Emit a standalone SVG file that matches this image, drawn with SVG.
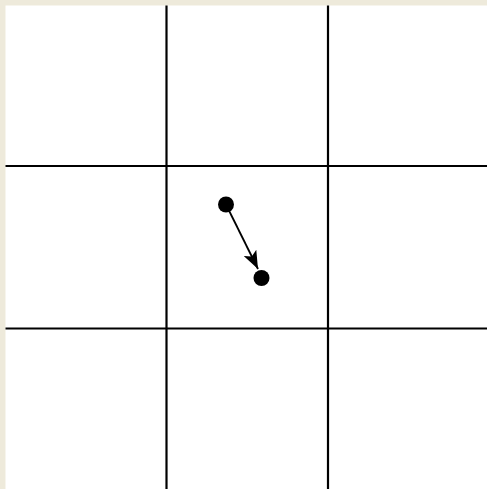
<svg xmlns="http://www.w3.org/2000/svg" width="487" height="489" viewBox="0 0 487 489">
<style>
.grid{stroke:#000;stroke-width:2.2;fill:none}
.dot{fill:#000}
.conn{stroke:#000;stroke-width:1.8;fill:none}
</style>
<defs>
<marker id="ah" markerWidth="18" markerHeight="14" refX="18" refY="7" orient="auto" markerUnits="userSpaceOnUse" viewBox="0 0 18 14">
<path d="M0,0 L18,7 L0,14 L4,7 z" fill="#000"/>
</marker>
</defs>
<rect x="0" y="0" width="487" height="489" fill="#EEEADB"/>
<rect x="5.5" y="5.5" width="481.5" height="483.5" fill="#fff"/>
<g id="grid">
<line class="grid" x1="166.5" y1="5.5" x2="166.5" y2="489"/>
<line class="grid" x1="328" y1="5.5" x2="328" y2="489"/>
<line class="grid" x1="5.5" y1="166" x2="487" y2="166"/>
<line class="grid" x1="5.5" y1="328.5" x2="487" y2="328.5"/>
</g>
<g id="nodeA"><circle class="dot" cx="226" cy="204.5" r="8"/></g>
<g id="nodeB"><circle class="dot" cx="261.5" cy="278" r="8"/></g>
<g id="connectors">
<path class="conn" d="M226,204.5 L258,269" marker-end="url(#ah)"/>
</g>
</svg>
